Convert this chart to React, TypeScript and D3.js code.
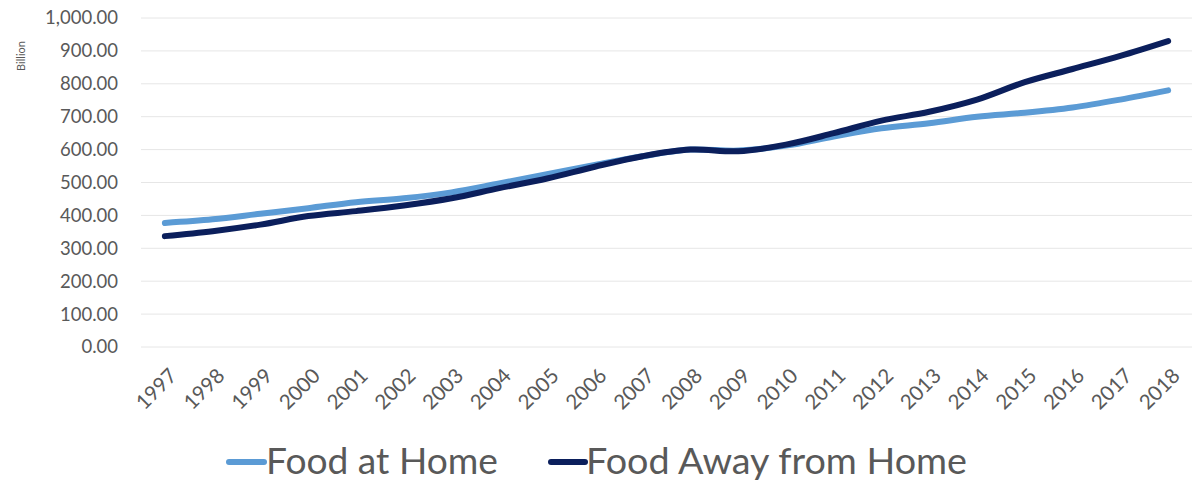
import React from "react";
import * as d3 from "d3";

const years = ["1997","1998","1999","2000","2001","2002","2003","2004","2005","2006","2007","2008","2009","2010","2011","2012","2013","2014","2015","2016","2017","2018"];
const foodAtHome = [377, 388, 405, 422, 440, 452, 470, 497, 525, 553, 580, 600, 597, 612, 640, 665, 680, 700, 712, 728, 752, 780];
const foodAway = [337, 352, 372, 398, 413, 430, 452, 483, 512, 548, 580, 600, 595, 615, 650, 688, 715, 752, 805, 845, 885, 930];
const yTicks = [0, 100, 200, 300, 400, 500, 600, 700, 800, 900, 1000];
const seriesNames = ["Food at Home", "Food Away from Home"];

const W = 1198, H = 487;
const left = 141, right = 1192, top = 18, bottom = 347;
const colors = ["#5b9bd5", "#0b1f5c"];
const font = "Lato, 'Open Sans', sans-serif";

export default function App() {
  const x = d3.scaleBand().domain(years).range([left, right]);
  const y = d3.scaleLinear().domain([0, 1000]).range([bottom, top]);
  const cx = (d: string) => (x(d) as number) + x.bandwidth() / 2;
  const line = d3.line<number>().x((_, i) => cx(years[i])).y(v => y(v)).curve(d3.curveCatmullRom.alpha(0.5));
  const fmt = d3.format(",.2f");
  return (
    <svg width={W} height={H} style={{ position: "absolute", left: 0, top: 0 }}>
      <rect width={W} height={H} fill="#fff" />
      {yTicks.map(t => (
        <g key={t}>
          <line x1={left} x2={right} y1={y(t)} y2={y(t)} stroke="#e6e6e6" strokeWidth={1} />
          <text x={118} y={y(t)} dy="0.35em" textAnchor="end" fontFamily={font} fontSize={18.5} fill="#595959">{fmt(t)}</text>
        </g>
      ))}
      <text transform="translate(25,56) rotate(-90)" textAnchor="middle" fontFamily={font} fontSize={11} fill="#595959">Billion</text>
      {years.map(yr => (
        <text key={yr} transform={`translate(${cx(yr) + 3},${bottom + 20}) rotate(-45)`} textAnchor="end" dy="0.7em" fontFamily={font} fontSize={20.5} fill="#595959">{yr}</text>
      ))}
      <path d={line(foodAtHome) as string} fill="none" stroke={colors[0]} strokeWidth={6} strokeLinecap="round" strokeLinejoin="round" />
      <path d={line(foodAway) as string} fill="none" stroke={colors[1]} strokeWidth={6} strokeLinecap="round" strokeLinejoin="round" />
      <g>
        <line x1={229} x2={264} y1={462} y2={462} stroke={colors[0]} strokeWidth={6} strokeLinecap="round" />
        <text x={266} y={461} dy="0.36em" fontFamily={font} fontSize={36} fill="#595959" textLength={232} lengthAdjust="spacingAndGlyphs">{seriesNames[0]}</text>
        <line x1={551} x2={585} y1={462} y2={462} stroke={colors[1]} strokeWidth={6} strokeLinecap="round" />
        <text x={586} y={461} dy="0.36em" fontFamily={font} fontSize={36} fill="#595959" textLength={381} lengthAdjust="spacingAndGlyphs">{seriesNames[1]}</text>
      </g>
    </svg>
  );
}
